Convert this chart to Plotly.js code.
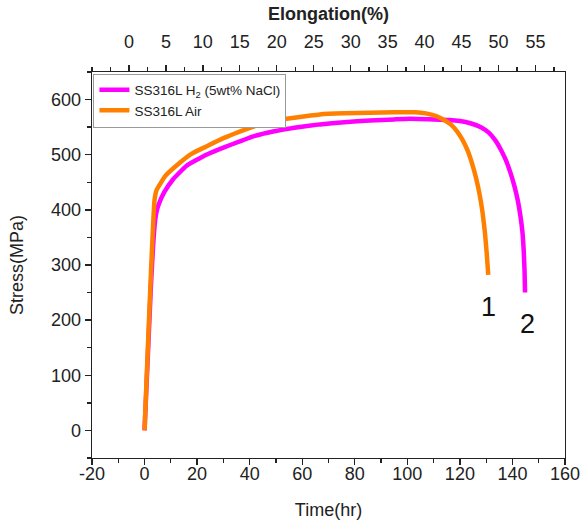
<!DOCTYPE html>
<html>
<head>
<meta charset="utf-8">
<script src="https://cdn.plot.ly/plotly-3.0.1.min.js"></script>
<style>html,body{margin:0;padding:0;background:#fff;}#chart{width:581px;height:524px;}</style>
</head>
<body>
<div id="chart"></div>
<script>
// Series: SS316L in H2 (5wt% NaCl)
const h2Time   = [0, 2.4, 3.8, 4.5, 5.4, 7.5, 10.8, 16, 23.5, 30, 36.2, 42, 48.9, 57, 66.7, 76, 85.7, 95, 101, 110, 116, 120, 124, 128, 131, 133.5, 135.5, 137.5, 139.2, 140.7, 142, 143, 143.8, 144.3, 144.6, 144.8];
const h2Stress = [0, 260, 370, 395, 410, 432, 455, 480, 500, 513, 524, 534, 542, 549, 555, 559, 562, 564, 565, 564, 563, 561, 557, 550, 540, 526, 510, 490, 468, 444, 418, 390, 360, 325, 290, 250];
// Series: SS316L in Air
const airTime   = [0, 3.8, 4.6, 8, 13.3, 18, 23.5, 30, 36.2, 42, 48.9, 57, 66.7, 76, 85.7, 95, 103, 107, 111, 114, 116.5, 119, 121, 123, 124.7, 126.2, 127.5, 128.6, 129.5, 130.2, 130.8];
const airStress = [0, 418, 436, 462, 485, 502, 515, 530, 542, 552, 561, 567, 573, 575, 576, 577, 577, 575, 570, 563, 555, 542, 527, 507, 483, 457, 428, 396, 360, 322, 282];
const seriesNames = ['SS316L H<sub>2</sub> (5wt% NaCl)', 'SS316L Air'];
// Tick labels
const timeTicks = [-20, 0, 20, 40, 60, 80, 100, 120, 140, 160];
const timeTickText = ['-20', '0', '20', '40', '60', '80', '100', '120', '140', '160'];
const elongTicks = [0, 5, 10, 15, 20, 25, 30, 35, 40, 45, 50, 55];
const stressTicks = [0, 100, 200, 300, 400, 500, 600];
// Curve number labels
const curveLabels = ['1', '2'];
const labelTime = [130.8, 145.6];
const labelStress = [224, 193];

const FONT = 'Arial, "Liberation Sans", sans-serif';
const traces = [
  {x: h2Time, y: h2Stress, type: 'scatter', mode: 'lines', name: seriesNames[0],
   line: {color: '#FF00FF', width: 4.5, shape: 'spline', smoothing: 0.4}},
  {x: airTime, y: airStress, type: 'scatter', mode: 'lines', name: seriesNames[1],
   line: {color: '#FF8000', width: 4.5, shape: 'spline', smoothing: 0.4}},
  {x: [], y: [], xaxis: 'x2', yaxis: 'y', showlegend: false, hoverinfo: 'skip'}
];

const axCommon = {
  showgrid: false, zeroline: false, showline: true, linecolor: '#222', linewidth: 1.3,
  ticks: 'outside', ticklen: 6, tickwidth: 1.3, tickcolor: '#222',
  tickfont: {family: FONT, size: 18, color: '#222'}
};

const layout = {
  width: 581, height: 524,
  margin: {l: 92, r: 16, t: 72, b: 66},
  paper_bgcolor: '#fff', plot_bgcolor: '#fff',
  font: {family: FONT, color: '#222'},
  showlegend: true,
  legend: {x: 0.003, y: 0.996, xanchor: 'left', yanchor: 'top',
    bordercolor: '#999', borderwidth: 1, bgcolor: '#fff',
    font: {family: FONT, size: 13.5, color: '#222'}, tracegroupgap: 0},
  xaxis: Object.assign({}, axCommon, {
    range: [-20, 160], tickmode: 'array', tickvals: timeTicks, ticktext: timeTickText,
    minor: {dtick: 10, tick0: 0, ticklen: 3.5, tickcolor: '#222', ticks: 'outside', tickwidth: 1.3},
    ticklabelstandoff: -7,
    title: {text: 'Time(hr)', font: {family: FONT, size: 18, color: '#222'}, standoff: 20}
  }),
  xaxis2: Object.assign({}, axCommon, {
    overlaying: 'x', side: 'top', anchor: 'y',
    range: [-5, 59], tickmode: 'array', tickvals: elongTicks,
    minor: {dtick: 2.5, tick0: 0, ticklen: 3.5, tickcolor: '#222', ticks: 'outside', tickwidth: 1.3},
    ticklabelstandoff: 10,
    title: {text: '<b>Elongation(%)</b>', font: {family: FONT, size: 18, color: '#222'}, standoff: 6}
  }),
  yaxis: Object.assign({}, axCommon, {
    range: [-50, 650], tickmode: 'array', tickvals: stressTicks, mirror: true,
    minor: {dtick: 50, tick0: 0, ticklen: 3.5, tickcolor: '#222', ticks: 'outside', tickwidth: 1.3},
    title: {text: 'Stress(MPa)', font: {family: FONT, size: 18, color: '#222'}, standoff: 22}
  }),
  annotations: curveLabels.map((t, i) => ({
    x: labelTime[i], y: labelStress[i], xref: 'x', yref: 'y', text: t, showarrow: false,
    font: {family: FONT, size: 27, color: '#111'}
  }))
};

Plotly.newPlot('chart', traces, layout, {displayModeBar: false, staticPlot: true});
</script>
</body>
</html>
